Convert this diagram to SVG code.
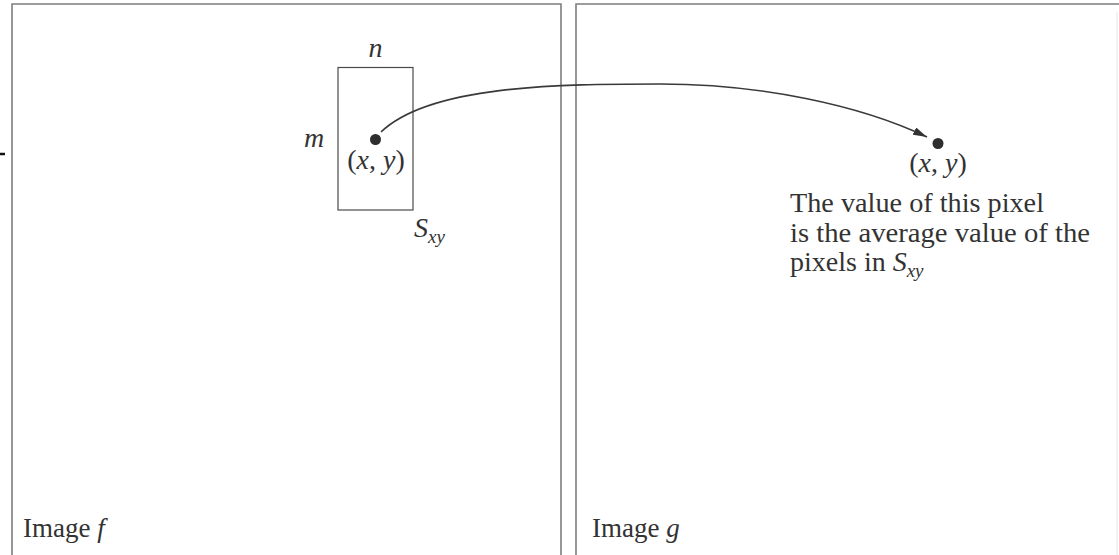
<svg xmlns="http://www.w3.org/2000/svg" width="1119" height="555" viewBox="0 0 1119 555">
<style>
.panel{fill:none;stroke:#7d7d7d;stroke-width:1.6}
.win{fill:none;stroke:#4a4a4a;stroke-width:1.2}
.t{font-family:"Liberation Serif","Times New Roman",serif;font-size:28px;fill:#333}
.lbl{font-size:27px}
.i{font-style:italic}
.sub{font-size:19px}
.dot{fill:#2e2e2e}
.conn{fill:none;stroke:#3a3a3a;stroke-width:1.6}
</style>
<defs>
<marker id="ah" viewBox="0 0 14 8" refX="14" refY="4" markerWidth="14" markerHeight="8" markerUnits="userSpaceOnUse" orient="auto">
<path d="M0,0 L14,4 L0,8 Z" fill="#333"/>
</marker>
</defs>
<rect width="1119" height="555" fill="#fff"/>
<line x1="0" y1="154" x2="5" y2="154" stroke="#111" stroke-width="2.5"/>
<g id="image-f">
<path class="panel" d="M12,555 V4 H561 V555"/>
<text class="t lbl" x="23" y="537">Image <tspan class="i">f</tspan></text>
</g>
<g id="image-g">
<path class="panel" d="M576,555 V4 H1119"/>
<line x1="1117" y1="12" x2="1117" y2="555" stroke="#e4e4e4" stroke-width="1"/>
<text class="t lbl" x="592" y="537">Image <tspan class="i">g</tspan></text>
</g>
<g id="neighborhood">
<rect class="win" x="338" y="67.5" width="75" height="142.5"/>
<text class="t i" x="375.5" y="57" text-anchor="middle">n</text>
<text class="t i" x="304" y="147">m</text>
<text class="t i" x="414" y="237">S<tspan class="sub" dy="6">xy</tspan></text>
</g>
<g id="source-pixel">
<circle class="dot" cx="375.5" cy="139.5" r="5.5"/>
<text class="t" x="376" y="169" text-anchor="middle">(<tspan class="i">x</tspan>, <tspan class="i">y</tspan>)</text>
</g>
<g id="target-pixel">
<circle class="dot" cx="938" cy="143.5" r="5.5"/>
<text class="t" x="938" y="172" text-anchor="middle">(<tspan class="i">x</tspan>, <tspan class="i">y</tspan>)</text>
<text class="t" x="790" y="212" textLength="254" lengthAdjust="spacingAndGlyphs">The value of this pixel</text>
<text class="t" x="790" y="242" textLength="300" lengthAdjust="spacingAndGlyphs">is the average value of the</text>
<text class="t" x="790" y="271">pixels in <tspan class="i">S</tspan><tspan class="sub i" dy="6">xy</tspan></text>
</g>
<g id="connectors">
<path class="conn" marker-end="url(#ah)" d="M381,132 C430,85 560,84 660,84 C760,84 860,105 927,137"/>
</g>
</svg>
